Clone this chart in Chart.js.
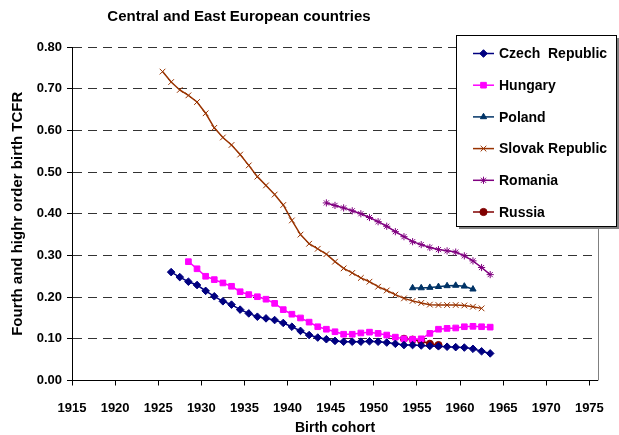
<!DOCTYPE html>
<html>
<head>
<meta charset="utf-8">
<script src="https://cdn.jsdelivr.net/npm/chart.js@4.4.0/dist/chart.umd.min.js"></script>
<style>
html, body { margin: 0; padding: 0; background: #fff; }
</style>
</head>
<body>
<canvas id="chart" width="619" height="435"></canvas>
<script>
// ----- data -----
const xTicks = [1915, 1920, 1925, 1930, 1935, 1940, 1945, 1950, 1955, 1960, 1965, 1970, 1975];
const yTicks = [0, 0.1, 0.2, 0.3, 0.4, 0.5, 0.6, 0.7, 0.8];

const czechStart = 1926.5;
const czechValues = [0.260, 0.248, 0.237, 0.229, 0.215, 0.202, 0.190, 0.182, 0.170, 0.161,
    0.153, 0.149, 0.145, 0.138, 0.129, 0.119, 0.109, 0.103, 0.099, 0.095,
    0.093, 0.093, 0.093, 0.094, 0.093, 0.091, 0.088, 0.085, 0.085, 0.084,
    0.083, 0.082, 0.081, 0.080, 0.079, 0.076, 0.070, 0.065];

const hungaryStart = 1928.5;
const hungaryValues = [0.285, 0.268, 0.250, 0.242, 0.234, 0.226, 0.213, 0.206, 0.201, 0.195,
    0.185, 0.170, 0.159, 0.150, 0.140, 0.129, 0.123, 0.117, 0.111, 0.111,
    0.114, 0.116, 0.113, 0.109, 0.104, 0.100, 0.099, 0.100, 0.113, 0.123,
    0.125, 0.126, 0.129, 0.130, 0.129, 0.128];

const polandStart = 1954.5;
const polandValues = [0.222, 0.222, 0.223, 0.225, 0.227, 0.228, 0.226, 0.219];

const slovakStart = 1925.5;
const slovakValues = [0.741, 0.716, 0.697, 0.684, 0.668, 0.641, 0.606, 0.583, 0.565, 0.542,
    0.516, 0.489, 0.468, 0.446, 0.421, 0.384, 0.350, 0.328, 0.316, 0.303,
    0.285, 0.269, 0.258, 0.246, 0.237, 0.225, 0.216, 0.206, 0.197, 0.191,
    0.186, 0.182, 0.181, 0.181, 0.181, 0.180, 0.177, 0.173];

const romaniaStart = 1944.5;
const romaniaValues = [0.426, 0.420, 0.414, 0.407, 0.400, 0.391, 0.381, 0.370, 0.357, 0.345,
    0.333, 0.326, 0.319, 0.314, 0.311, 0.308, 0.299, 0.287, 0.271, 0.254];

const russiaStart = 1953.5;
const russiaValues = [0.100, 0.098, 0.095, 0.088, 0.085];

const FONT = "'Liberation Sans', Arial, sans-serif";

// one point per birth cohort, consecutive years
function toPoints(start, values) {
    return values.map((v, i) => ({ x: start + i, y: v }));
}

function series(label, start, values, color, style, radius) {
    return {
        label: label,
        data: toPoints(start, values),
        borderColor: color,
        backgroundColor: color,
        borderWidth: 1.5,
        pointStyle: style,
        pointRadius: radius,
        pointBorderWidth: 1,
        pointHoverRadius: radius,
        tension: 0
    };
}

// titre, legende et bordure droite dessinés à la main
const decorPlugin = {
    id: 'decor',
    beforeDraw(chart) {
        const ctx = chart.ctx;
        ctx.save();
        ctx.fillStyle = '#fff';
        ctx.fillRect(0, 0, chart.width, chart.height);
        ctx.restore();
    },
    afterDraw(chart) {
        const ctx = chart.ctx;
        const area = chart.chartArea;
        ctx.save();

        // right frame line
        ctx.strokeStyle = '#808080';
        ctx.lineWidth = 1;
        ctx.beginPath();
        ctx.moveTo(Math.round(area.right) + 0.5, area.top);
        ctx.lineTo(Math.round(area.right) + 0.5, area.bottom);
        ctx.stroke();

        // title
        ctx.fillStyle = '#000';
        ctx.font = 'bold 15px ' + FONT;
        ctx.textAlign = 'center';
        ctx.textBaseline = 'middle';
        ctx.fillText('Central and East European countries', 239, 17);

        // legend box
        const bx = 456, by = 35, bw = 160, bh = 191;
        ctx.fillStyle = '#808080';
        ctx.fillRect(bx + 3, by + 3, bw, bh);
        ctx.fillStyle = '#fff';
        ctx.fillRect(bx, by, bw, bh);
        ctx.strokeStyle = '#000';
        ctx.strokeRect(bx + 0.5, by + 0.5, bw, bh);

        ctx.font = 'bold 14px ' + FONT;
        ctx.textAlign = 'left';
        chart.data.datasets.forEach((ds, i) => {
            const y = 53.5 + i * 31.7;
            ctx.strokeStyle = ds.borderColor;
            ctx.lineWidth = 1.5;
            ctx.beginPath();
            ctx.moveTo(473, y);
            ctx.lineTo(494, y);
            ctx.stroke();
            ctx.fillStyle = ds.backgroundColor;
            ctx.lineWidth = 1;
            Chart.helpers.drawPoint(ctx, {
                pointStyle: ds.pointStyle,
                radius: ds.pointRadius,
                rotation: 0,
                borderWidth: 1
            }, 483.5, y);
            ctx.fillStyle = '#000';
            ctx.fillText(ds.label, 499, y + 1);
        });
        ctx.restore();
    }
};

const ctx = document.getElementById('chart').getContext('2d');
new Chart(ctx, {
    type: 'line',
    data: {
        datasets: [
            series('Czech  Republic', czechStart, czechValues, '#000080', 'rectRot', 3.8),
            series('Hungary', hungaryStart, hungaryValues, '#FF00FF', 'rect', 4),
            series('Poland', polandStart, polandValues, '#003366', 'triangle', 3.6),
            series('Slovak Republic', slovakStart, slovakValues, '#993300', 'crossRot', 4),
            series('Romania', romaniaStart, romaniaValues, '#800080', 'star', 3.6),
            series('Russia', russiaStart, russiaValues, '#800000', 'circle', 3.6)
        ]
    },
    options: {
        responsive: false,
        animation: false,
        layout: { padding: { top: 47, right: 11, left: 0, bottom: 0 } },
        plugins: {
            legend: { display: false },
            title: { display: false },
            tooltip: { enabled: false }
        },
        scales: {
            x: {
                type: 'linear',
                min: 1915,
                max: 1976,
                afterFit(scale) { scale.height = 54.5; },
                afterBuildTicks(scale) { scale.ticks = xTicks.map(v => ({ value: v })); },
                ticks: {
                    callback: v => String(v),
                    color: '#000',
                    font: { family: FONT, size: 13, weight: 'bold' },
                    padding: 15,
                    maxRotation: 0
                },
                grid: {
                    drawOnChartArea: false,
                    drawTicks: true,
                    tickLength: 5,
                    tickColor: '#000'
                },
                border: { color: '#000', width: 1 },
                title: {
                    display: true,
                    text: 'Birth cohort',
                    color: '#000',
                    font: { family: FONT, size: 14, weight: 'bold', lineHeight: 1.05 },
                    padding: { top: 0, bottom: 0 }
                }
            },
            y: {
                min: 0,
                max: 0.8,
                afterFit(scale) { scale.width = 72; },
                afterBuildTicks(scale) { scale.ticks = yTicks.map(v => ({ value: v })); },
                ticks: {
                    callback: v => v.toFixed(2),
                    color: '#000',
                    font: { family: FONT, size: 13, weight: 'bold' },
                    padding: 5
                },
                grid: {
                    color: '#333',
                    lineWidth: 1,
                    drawTicks: true,
                    tickLength: 5,
                    tickColor: '#000',
                    tickBorderDash: [],
                    borderDash: [9, 6]
                },
                border: { color: '#000', width: 1, dash: [9, 6] },
                title: {
                    display: true,
                    text: 'Fourth and highr order birth TCFR',
                    color: '#000',
                    font: { family: FONT, size: 15, weight: 'bold' },
                    padding: { top: 8.5, bottom: 0 }
                }
            }
        }
    },
    plugins: [decorPlugin]
});
</script>
</body>
</html>
